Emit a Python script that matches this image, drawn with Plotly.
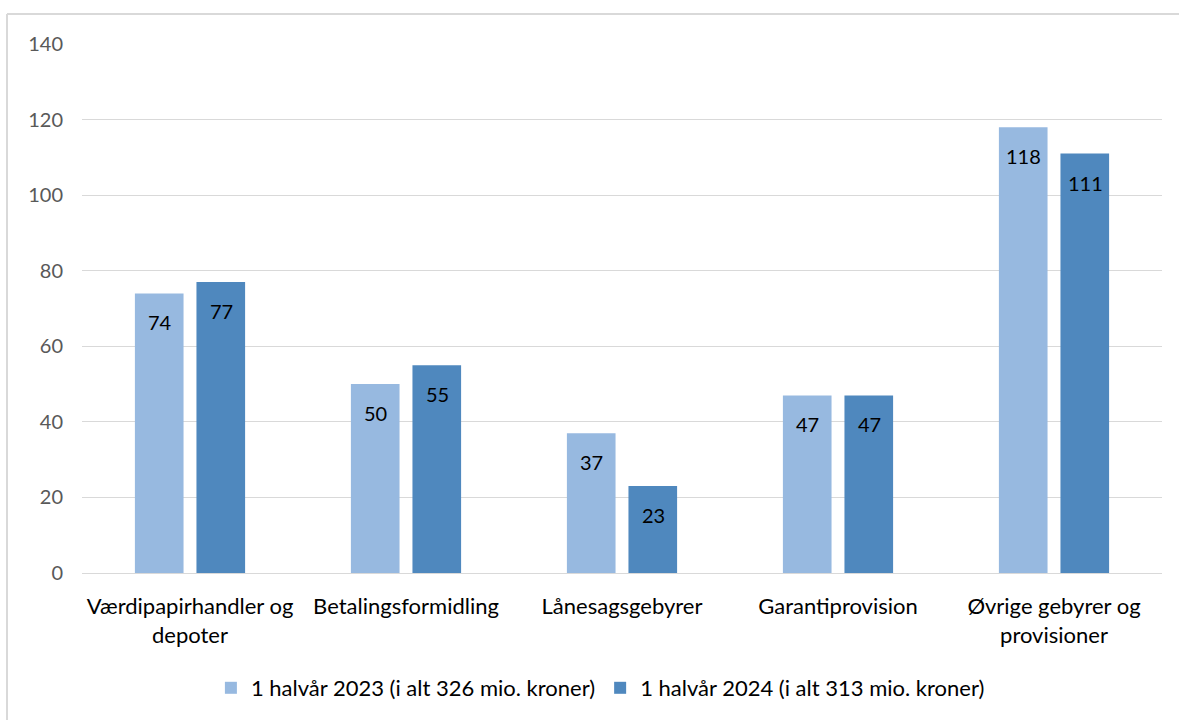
import plotly.graph_objects as go

categories = ["Værdipapirhandler og<br>depoter", "Betalingsformidling", "Lånesagsgebyrer",
              "Garantiprovision", "Øvrige gebyrer og<br>provisioner"]
series_2023 = [74, 50, 37, 47, 118]
series_2024 = [77, 55, 23, 47, 111]
name_2023 = "1 halvår 2023 (i alt 326 mio. kroner)"
name_2024 = "1 halvår 2024 (i alt 313 mio. kroner)"
y_ticks = [0, 20, 40, 60, 80, 100, 120, 140]

FONT = "Lato"
c1 = "#97B9E0"
c2 = "#4F88BE"

W, H = 1179, 720
ml, mt, mr, mb = 82, 44, 17, 146
pw, ph = W - ml - mr, H - mt - mb

fig = go.Figure()
fig.add_trace(go.Bar(x=categories, y=series_2023, name=name_2023, marker=dict(color=c1, line=dict(width=0))))
fig.add_trace(go.Bar(x=categories, y=series_2024, name=name_2024, marker=dict(color=c2, line=dict(width=0))))

annotations = []
for vals, shift in ((series_2023, -30.5), (series_2024, 31)):
    for c, v in zip(categories, vals):
        annotations.append(dict(x=c, y=v, xref="x", yref="y", text=str(v), showarrow=False,
                                xshift=shift, yshift=-15, yanchor="top",
                                font=dict(family=FONT, size=20, color="#000000")))

# outer frame: left and top edges only (right/bottom lie outside the picture)
fx0 = (7 - ml) / pw
fy1 = 1 + (mt - 14) / ph
fx1 = 1 + (mr + 40) / pw
fy0 = -(mb + 40) / ph
frame = dict(color="#D9D9D9", width=2)
shapes = [
    dict(type="line", xref="paper", yref="paper", x0=fx0, x1=fx0, y0=fy0, y1=fy1, line=frame, layer="below"),
    dict(type="line", xref="paper", yref="paper", x0=fx0, x1=fx1, y0=fy1, y1=fy1, line=frame, layer="below"),
]

fig.update_layout(
    width=W, height=H,
    margin=dict(l=ml, r=mr, t=mt, b=mb),
    paper_bgcolor="white", plot_bgcolor="white",
    barmode="group", bargap=0.43, bargroupgap=0.21,
    font=dict(family=FONT, size=22, color="#000000"),
    annotations=annotations, shapes=shapes,
    legend=dict(orientation="h", x=0.48, xanchor="center", y=-(688 - 574) / ph, yanchor="middle",
                font=dict(family=FONT, size=22, color="#000000"), itemwidth=30, traceorder="normal"),
    xaxis=dict(showline=True, linecolor="#D9D9D9", linewidth=1, ticks="", tickfont=dict(family=FONT, size=22, color="#000000"),
               ticklabelstandoff=14),
    yaxis=dict(range=[0, 140], tickvals=y_ticks, showgrid=True, gridcolor="#D9D9D9", gridwidth=1,
               zeroline=False, showline=False, ticks="", tickfont=dict(family=FONT, size=20, color="#595959"),
               ticklabelstandoff=18),
)

fig.write_html("out.html", config={"displayModeBar": False},
               post_script="document.body.style.margin='0';document.documentElement.style.overflow='hidden';")
